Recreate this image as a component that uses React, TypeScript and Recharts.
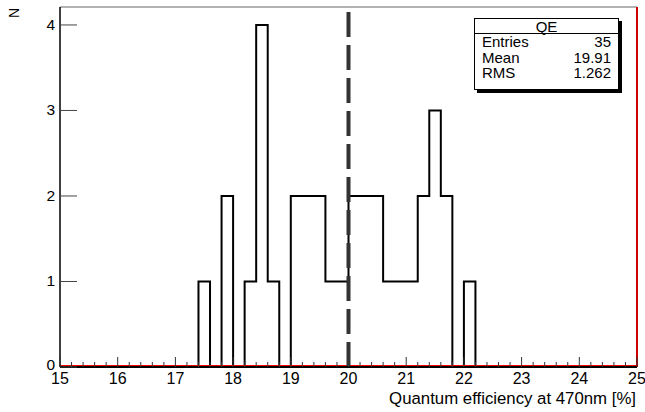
import React from 'react';
import { ComposedChart, Line, XAxis, YAxis, ReferenceLine } from 'recharts';

// bin lower edges (0.2 wide) plus the final upper edge at 25
const binEdges = [
  15.0, 15.2, 15.4, 15.6, 15.8, 16.0, 16.2, 16.4, 16.6, 16.8,
  17.0, 17.2, 17.4, 17.6, 17.8, 18.0, 18.2, 18.4, 18.6, 18.8,
  19.0, 19.2, 19.4, 19.6, 19.8, 20.0, 20.2, 20.4, 20.6, 20.8,
  21.0, 21.2, 21.4, 21.6, 21.8, 22.0, 22.2, 22.4, 22.6, 22.8,
  23.0, 23.2, 23.4, 23.6, 23.8, 24.0, 24.2, 24.4, 24.6, 24.8,
  25.0,
];

// entries per bin, last value repeats so the step closes at 25
const binCounts = [
  0, 0, 0, 0, 0, 0, 0, 0, 0, 0,
  0, 0, 1, 0, 2, 0, 1, 4, 1, 0,
  2, 2, 2, 1, 1, 2, 2, 2, 1, 1,
  1, 2, 3, 2, 0, 1, 0, 0, 0, 0,
  0, 0, 0, 0, 0, 0, 0, 0, 0, 0,
  0,
];

const yTicks = [0, 1, 2, 3, 4];
const meanLine = 20;
const yMax = 4.21;

const statsRows = [
  { name: 'Entries', value: '35' },
  { name: 'Mean', value: '19.91' },
  { name: 'RMS', value: '1.262' },
];

const FONT = '"Liberation Sans", Arial, Helvetica, sans-serif';

const data = binEdges.map((x, i) => ({ x, n: binCounts[i] }));

const XTick = ({ x, y, payload }: any) => {
  const v = payload.value;
  const major = Math.abs(v - Math.round(v)) < 1e-6;
  return (
    <g>
      <line x1={x} x2={x} y1={y} y2={y - (major ? 10 : 5)} stroke="#333" strokeWidth={1} />
      {major && (
        <text x={x} y={y + 17} textAnchor="middle" fontSize={16} fontFamily={FONT} fill="#000">
          {Math.round(v)}
        </text>
      )}
    </g>
  );
};

const YTick = ({ x, y, payload }: any) => (
  <g>
    <line x1={x} x2={x + 17} y1={y} y2={y} stroke="#444" strokeWidth={1} />
    <text
      x={x - 5}
      y={y + (payload.value === 0 ? 3 : 5)}
      textAnchor="end"
      fontSize={15.5}
      fontFamily={FONT}
      fill="#000"
    >
      {payload.value}
    </text>
  </g>
);

export default function App() {
  return (
    <div style={{ position: 'relative', width: 645, height: 412, background: '#fff' }}>
      <style>{'body{margin:0}'}</style>
      <ComposedChart
        width={645}
        height={412}
        data={data}
        margin={{ top: 7, right: 8, left: 0, bottom: 0 }}
      >
        <XAxis
          type="number"
          dataKey="x"
          domain={[15, 25]}
          ticks={binEdges}
          interval={0}
          height={45}
          tickSize={0}
          tickMargin={0}
          tickLine={false}
          tick={<XTick />}
          axisLine={{ stroke: '#000', strokeWidth: 2 }}
          label={{
            content: () => (
              <text x={636} y={404} textAnchor="end" fontSize={16.8} fontFamily={FONT} fill="#000">
                Quantum efficiency at 470nm [%]
              </text>
            ),
          }}
        />
        <YAxis
          type="number"
          domain={[0, yMax]}
          ticks={yTicks}
          interval={0}
          width={60}
          tickSize={0}
          tickMargin={0}
          tickLine={false}
          tick={<YTick />}
          axisLine={{ stroke: '#000', strokeWidth: 1.5 }}
          label={{
            content: () => (
              <text
                x={14}
                y={13}
                transform="rotate(-90 14 13)"
                textAnchor="middle"
                dominantBaseline="central"
                fontSize={14}
                fontFamily={FONT}
                fill="#000"
              >
                N
              </text>
            ),
          }}
        />
        <ReferenceLine y={yMax} stroke="#999" strokeWidth={1.5} />
        <ReferenceLine x={25} stroke="#cc0000" strokeWidth={2} />
        <Line
          type="stepAfter"
          dataKey="n"
          stroke="#000"
          strokeWidth={2}
          dot={false}
          activeDot={false}
          isAnimationActive={false}
        />
        <ReferenceLine
          y={0}
          stroke="#ff0000"
          strokeWidth={1}
          shape={(p: any) => (
            <line x1={p.x1} x2={p.x2} y1={p.y1 - 1.5} y2={p.y2 - 1.5} stroke="#ff0000" strokeWidth={1} />
          )}
        />
        <ReferenceLine x={meanLine} stroke="#333" strokeWidth={4} strokeDasharray="25 8" />
      </ComposedChart>
      <div
        style={{
          position: 'absolute',
          left: 474,
          top: 18,
          width: 143,
          height: 70,
          border: '1px solid #000',
          boxShadow: '3px 3px 0 #000',
          background: '#fff',
          fontFamily: FONT,
          fontSize: 15,
          color: '#000',
        }}
      >
        <div style={{ height: 14, lineHeight: '15px', textAlign: 'center', borderBottom: '1px solid #000' }}>
          QE
        </div>
        {statsRows.map(r => (
          <div
            key={r.name}
            style={{ display: 'flex', justifyContent: 'space-between', padding: '0 7px', height: 15.5, lineHeight: '16px' }}
          >
            <span>{r.name}</span>
            <span>{r.value}</span>
          </div>
        ))}
      </div>
    </div>
  );
}
